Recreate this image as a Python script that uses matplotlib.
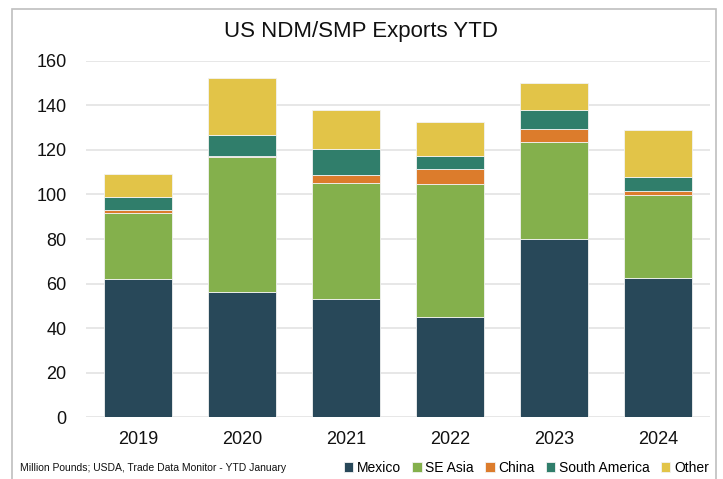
import numpy as np
import matplotlib.pyplot as plt
from matplotlib.patches import Rectangle

# ---------- Date ----------
years = ['2019', '2020', '2021', '2022', '2023', '2024']
mexico = [62.0, 56.0, 53.0, 45.0, 80.0, 62.5]
se_asia = [29.8, 60.9, 52.0, 59.7, 43.5, 37.4]
china = [1.4, 0.5, 3.6, 6.9, 5.8, 1.7]
south_america = [5.8, 9.3, 11.8, 5.7, 8.7, 6.1]
other = [10.3, 25.5, 17.7, 15.4, 12.1, 21.4]

series = [
    ('Mexico', mexico, '#284859'),
    ('SE Asia', se_asia, '#84B04C'),
    ('China', china, '#DC7C2C'),
    ('South America', south_america, '#307E6B'),
    ('Other', other, '#E2C448'),
]

FONT = ['Liberation Sans', 'DejaVu Sans']
plt.rcParams['font.family'] = FONT

fig = plt.figure(figsize=(7.23, 4.79), dpi=100)
ax = fig.add_axes([0.119, 0.129, 0.863, 0.744])

x = np.arange(len(years))
bottom = np.zeros(len(years))
for name, vals, col in series:
    ax.bar(x, vals, width=0.66, bottom=bottom, color=col, label=name,
           edgecolor='#F2F2F2', linewidth=0.6, zorder=3)
    bottom += np.array(vals)

ax.set_xlim(-0.5, len(years) - 0.5)
ax.set_ylim(0, 160)
ax.set_yticks(range(0, 161, 20))
ax.set_xticks(x)
ax.set_xticklabels(years)
ax.tick_params(axis='both', length=0, labelsize=13, colors='#111111')
ax.tick_params(axis='y', pad=14)
ax.tick_params(axis='x', pad=10)
ax.grid(axis='y', color='#E3E3E3', linewidth=1.2, zorder=0)
for s in ax.spines.values():
    s.set_visible(False)

fig.text(0.5, 0.935, 'US NDM/SMP Exports YTD', ha='center', va='center',
         fontsize=16, color='#111111')
fig.text(0.028, 0.022, 'Million Pounds; USDA, Trade Data Monitor - YTD January',
         ha='left', va='center', fontsize=7.5, color='#111111')

fig.legend(loc='center right', bbox_to_anchor=(0.99, 0.024), ncol=5,
           frameon=False, fontsize=10, handlelength=0.7, handleheight=0.7,
           handletextpad=0.25, columnspacing=0.8, borderpad=0)

# chenar exterior
fig.patches.append(Rectangle((0.016, -0.02), 0.975, 1.002, transform=fig.transFigure,
                             fill=False, edgecolor='#BFBFBF', linewidth=1.2))

plt.savefig('out.png', dpi=100)
